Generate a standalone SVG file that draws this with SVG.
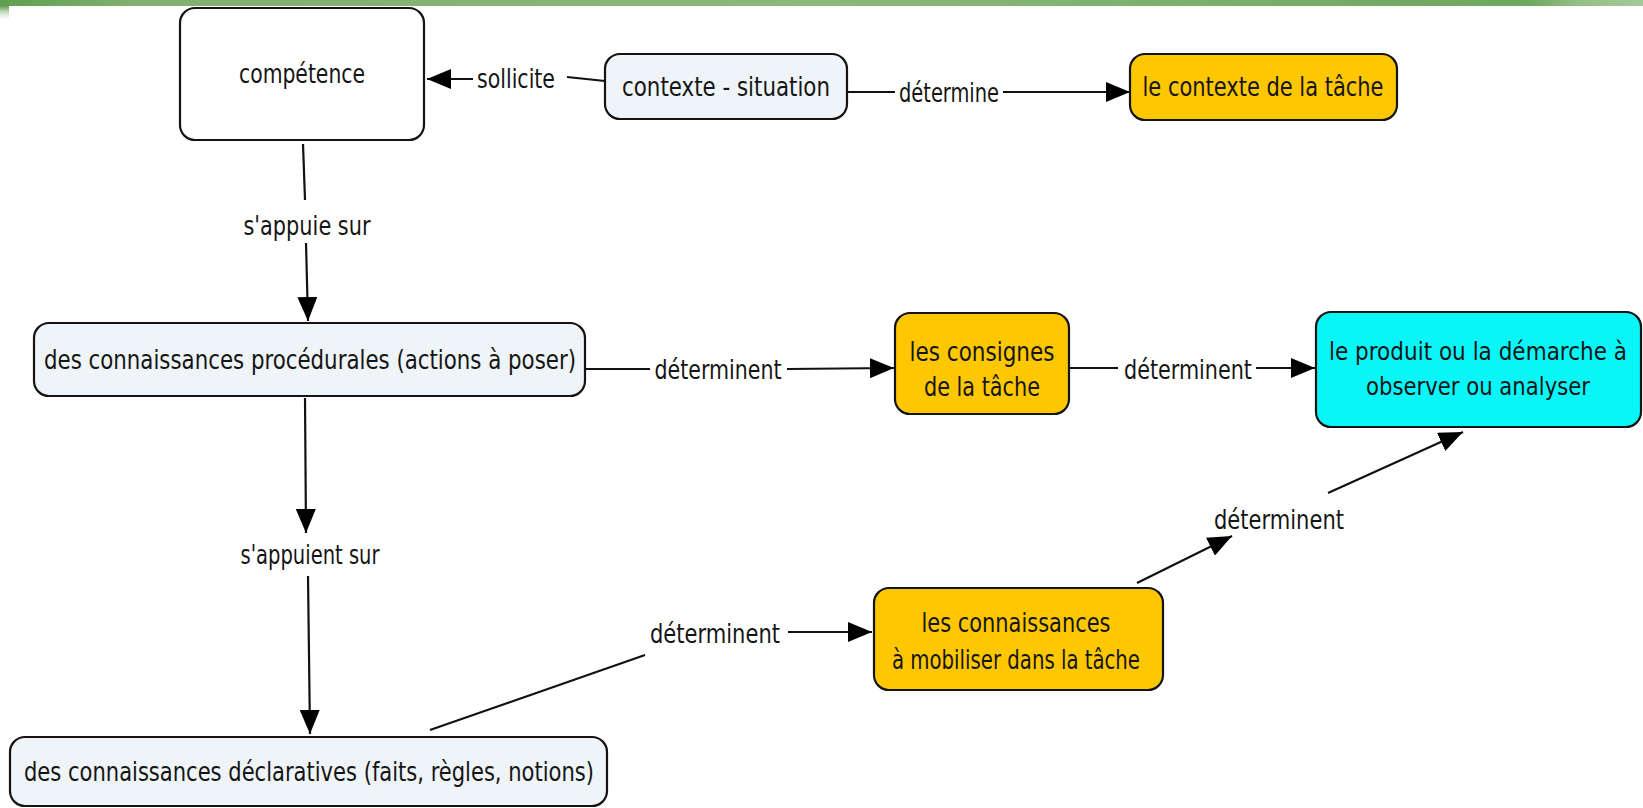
<svg xmlns="http://www.w3.org/2000/svg" width="1643" height="808" viewBox="0 0 1643 808">
<style>
.node rect{stroke:#141414;stroke-width:2.2}
.white{fill:#ffffff}
.pale{fill:#eef4f7}
.orange{fill:#ffc700}
.cyan{fill:#0af5f8}
text{font-family:"DejaVu Sans Condensed","DejaVu Sans","Liberation Sans",sans-serif;font-size:26px;fill:#151515;text-anchor:middle}
#produit text{font-size:24px}
.conn line{stroke:#111;stroke-width:2.2;fill:none}
.arr{marker-end:url(#ah)}
</style>
<defs>
<marker id="ah" viewBox="0 0 10 10" refX="10" refY="5" markerUnits="userSpaceOnUse" markerWidth="24" markerHeight="20" orient="auto" preserveAspectRatio="none">
<path d="M0,0 L10,5 L0,10 z" fill="#000"/>
</marker>
<linearGradient id="band" x1="0" y1="0" x2="1" y2="0">
<stop offset="0" stop-color="#5f9e4f"/>
<stop offset="0.08" stop-color="#7fb06f"/>
<stop offset="0.5" stop-color="#8ab97b"/>
<stop offset="0.93" stop-color="#6ea75e"/>
<stop offset="0.96" stop-color="#93c086"/>
<stop offset="1" stop-color="#a3c997"/>
</linearGradient>
<linearGradient id="corner" x1="0" y1="0" x2="0" y2="1">
<stop offset="0" stop-color="#5f9e4f"/>
<stop offset="1" stop-color="#ffffff" stop-opacity="0"/>
</linearGradient>
</defs>
<rect x="0" y="0" width="1643" height="808" fill="#ffffff"/>
<rect x="0" y="0" width="1643" height="6" fill="url(#band)"/>
<rect x="0" y="6" width="9" height="16" fill="url(#corner)"/>

<g id="connectors" class="conn">
<line x1="605" y1="81" x2="567" y2="77"/>
<text x="516" y="88" textLength="78" lengthAdjust="spacingAndGlyphs">sollicite</text>
<line class="arr" x1="473" y1="79" x2="427" y2="79"/>

<line x1="847" y1="92" x2="895" y2="92"/>
<text x="949" y="102" textLength="100" lengthAdjust="spacingAndGlyphs">détermine</text>
<line class="arr" x1="1003" y1="92" x2="1130" y2="92"/>

<line x1="303" y1="144" x2="305" y2="200"/>
<text x="307" y="235" textLength="127" lengthAdjust="spacingAndGlyphs">s'appuie sur</text>
<line class="arr" x1="306" y1="243" x2="308" y2="321"/>

<line x1="585" y1="369" x2="650" y2="369"/>
<text x="718" y="379" textLength="127" lengthAdjust="spacingAndGlyphs">déterminent</text>
<line class="arr" x1="787" y1="369" x2="894" y2="368"/>

<line x1="1069" y1="368" x2="1118" y2="368"/>
<text x="1188" y="379" textLength="128" lengthAdjust="spacingAndGlyphs">déterminent</text>
<line class="arr" x1="1256" y1="368" x2="1315" y2="368"/>

<line class="arr" x1="305" y1="398" x2="306" y2="533"/>
<text x="310" y="564" textLength="139" lengthAdjust="spacingAndGlyphs">s'appuient sur</text>
<line class="arr" x1="308" y1="576" x2="310" y2="734"/>

<line x1="430" y1="730" x2="645" y2="655"/>
<text x="715" y="643" textLength="130" lengthAdjust="spacingAndGlyphs">déterminent</text>
<line class="arr" x1="788" y1="632" x2="872" y2="632"/>

<line class="arr" x1="1137" y1="583" x2="1232" y2="536"/>
<text x="1279" y="529" textLength="130" lengthAdjust="spacingAndGlyphs">déterminent</text>
<line class="arr" x1="1328" y1="493" x2="1463" y2="432"/>
</g>

<g id="competence" class="node">
<rect class="white" x="180" y="8" width="244" height="132" rx="15"/>
<text x="302" y="83" textLength="126" lengthAdjust="spacingAndGlyphs">compétence</text>
</g>
<g id="contexte-situation" class="node">
<rect class="pale" x="605" y="54" width="242" height="65" rx="15"/>
<text x="726" y="96" textLength="208" lengthAdjust="spacingAndGlyphs">contexte - situation</text>
</g>
<g id="contexte-tache" class="node">
<rect class="orange" x="1130" y="54" width="267" height="66" rx="15"/>
<text x="1263" y="96" textLength="241" lengthAdjust="spacingAndGlyphs">le contexte de la tâche</text>
</g>
<g id="procedurales" class="node">
<rect class="pale" x="34" y="323" width="551" height="73" rx="15"/>
<text x="310" y="369" textLength="532" lengthAdjust="spacingAndGlyphs">des connaissances procédurales (actions à poser)</text>
</g>
<g id="consignes" class="node">
<rect class="orange" x="895" y="313" width="174" height="101" rx="15"/>
<text x="982" y="361" textLength="145" lengthAdjust="spacingAndGlyphs">les consignes</text>
<text x="982" y="396" textLength="116" lengthAdjust="spacingAndGlyphs">de la tâche</text>
</g>
<g id="produit" class="node">
<rect class="cyan" x="1316" y="312" width="325" height="115" rx="15"/>
<text x="1478" y="360" textLength="298" lengthAdjust="spacingAndGlyphs">le produit ou la démarche à</text>
<text x="1478" y="395" textLength="224" lengthAdjust="spacingAndGlyphs">observer ou analyser</text>
</g>
<g id="mobiliser" class="node">
<rect class="orange" x="874" y="588" width="289" height="102" rx="15"/>
<text x="1016" y="632" textLength="189" lengthAdjust="spacingAndGlyphs">les connaissances</text>
<text x="1016" y="669" textLength="248" lengthAdjust="spacingAndGlyphs">à mobiliser dans la tâche</text>
</g>
<g id="declaratives" class="node">
<rect class="pale" x="10" y="737" width="597" height="69" rx="15"/>
<text x="309" y="781" textLength="570" lengthAdjust="spacingAndGlyphs">des connaissances déclaratives (faits, règles, notions)</text>
</g>
</svg>
